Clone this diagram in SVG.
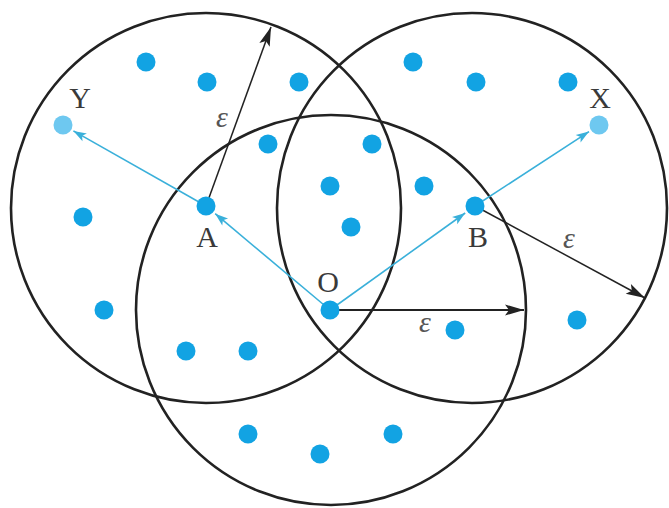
<svg xmlns="http://www.w3.org/2000/svg" width="669" height="508" viewBox="0 0 669 508">
<style>
.ring{fill:none;stroke:#222;stroke-width:2.6}
.dot{fill:#12a3e3}
.light{fill:#6ec8f0}
.cy{stroke:#3ab0da;stroke-width:1.6;fill:none}
.bk{stroke:#222;stroke-width:1.5;fill:none}
.lbl{font-family:"Liberation Serif","Times New Roman",serif;font-size:30px;fill:#3a3a3a;text-anchor:middle}
.eps{font-family:"Liberation Serif","Times New Roman",serif;font-size:30px;font-style:italic;fill:#555;text-anchor:middle}
</style>
<defs>
<marker id="ac" markerUnits="userSpaceOnUse" markerWidth="16" markerHeight="12" refX="14" refY="6" orient="auto" viewBox="0 0 16 12">
<path d="M14,6 L1,1.5 L4,6 L1,10.5 Z" fill="#3ab0da"/>
</marker>
<marker id="ab" markerUnits="userSpaceOnUse" markerWidth="22" markerHeight="14" refX="20" refY="7" orient="auto" viewBox="0 0 22 14">
<path d="M20,7 L1,1.5 L5,7 L1,12.5 Z" fill="#222"/>
</marker>
</defs>
<g id="circles">
<circle id="circleA" class="ring" cx="206" cy="208" r="195"/>
<circle id="circleB" class="ring" cx="472" cy="208" r="195"/>
<circle id="circleO" class="ring" cx="331" cy="310" r="195"/>
</g>
<g id="connectors">
<line class="bk" x1="206" y1="206" x2="271" y2="27" marker-end="url(#ab)"/>
<line class="bk" x1="475" y1="206" x2="645" y2="298" marker-end="url(#ab)"/>
<line class="bk" style="stroke-width:2.2" x1="330" y1="310" x2="524" y2="310" marker-end="url(#ab)"/>
<line class="cy" x1="330" y1="310" x2="215.2" y2="213.7" marker-end="url(#ac)"/>
<line class="cy" x1="206" y1="206" x2="73.4" y2="130.9" marker-end="url(#ac)"/>
<line class="cy" x1="330" y1="310" x2="465.2" y2="213" marker-end="url(#ac)"/>
<line class="cy" x1="475" y1="206" x2="589" y2="131.6" marker-end="url(#ac)"/>
</g>
<g id="points">
<circle class="dot" cx="146" cy="62" r="9.5"/>
<circle class="dot" cx="207" cy="82" r="9.5"/>
<circle class="dot" cx="299" cy="82" r="9.5"/>
<circle class="dot" cx="413" cy="62" r="9.5"/>
<circle class="dot" cx="476" cy="82" r="9.5"/>
<circle class="dot" cx="568" cy="82" r="9.5"/>
<circle class="dot" cx="268" cy="144" r="9.5"/>
<circle class="dot" cx="372" cy="144" r="9.5"/>
<circle class="dot" cx="330" cy="186" r="9.5"/>
<circle class="dot" cx="424" cy="186" r="9.5"/>
<circle class="dot" cx="83" cy="217" r="9.5"/>
<circle class="dot" cx="351" cy="227" r="9.5"/>
<circle class="dot" cx="104" cy="310" r="9.5"/>
<circle class="dot" cx="455" cy="330" r="9.5"/>
<circle class="dot" cx="577" cy="320" r="9.5"/>
<circle class="dot" cx="186" cy="351" r="9.5"/>
<circle class="dot" cx="248" cy="351" r="9.5"/>
<circle class="dot" cx="248" cy="434" r="9.5"/>
<circle class="dot" cx="393" cy="434" r="9.5"/>
<circle class="dot" cx="320" cy="454" r="9.5"/>
</g>
<g id="nodeY"><circle class="light" cx="63" cy="125" r="9.5"/><text class="lbl" x="80" y="108">Y</text></g>
<g id="nodeX"><circle class="light" cx="599" cy="125" r="9.5"/><text class="lbl" x="600" y="108">X</text></g>
<g id="nodeA"><circle class="dot" cx="206" cy="206" r="9.5"/><text class="lbl" x="207" y="247">A</text></g>
<g id="nodeB"><circle class="dot" cx="475" cy="206" r="9.5"/><text class="lbl" x="478" y="247">B</text></g>
<g id="nodeO"><circle class="dot" cx="330" cy="310" r="9.5"/><text class="lbl" x="328" y="292">O</text></g>
<g id="labels">
<text class="eps" x="222" y="127">ε</text>
<text class="eps" x="569" y="248">ε</text>
<text class="eps" x="425" y="332">ε</text>
</g>
</svg>
